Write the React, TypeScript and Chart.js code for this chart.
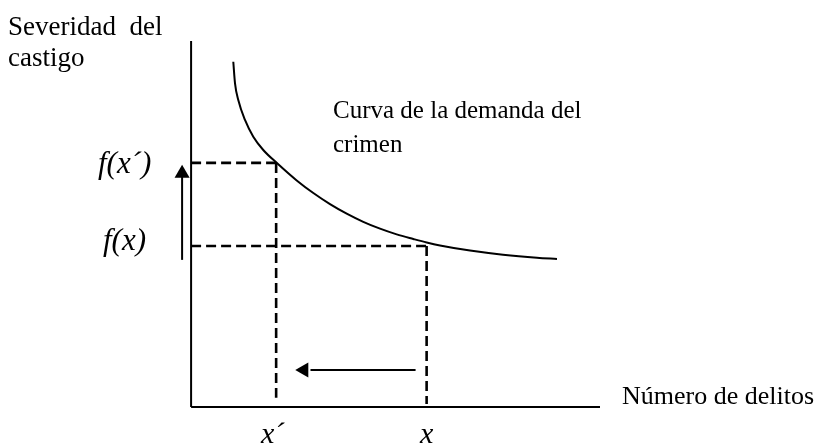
import React, { useEffect, useRef } from "react";
import { Chart, registerables } from "chart.js";

Chart.register(...registerables);

// Abstract diagram coordinates (x: number of crimes, y: severity of punishment)
const axisYLine = [{ x: 0, y: 0 }, { x: 0, y: 100 }];
const axisXLine = [{ x: 0, y: 0 }, { x: 100, y: 0 }];

const curveX = [10.32, 10.74, 11.54, 13.18, 15.21, 17.65, 21.25, 25.83, 29.89, 33.97, 38.05, 42.11, 46.2, 50.28, 54.34, 57.62, 60.87, 68.21, 76.28, 84.59, 89.48];
const curveY = [94.34, 88.44, 83.88, 78.42, 73.85, 70.22, 66.4, 61.91, 58.46, 55.44, 52.83, 50.6, 48.72, 47.17, 45.91, 44.95, 44.14, 42.75, 41.62, 40.79, 40.45];

const xPrime = 20.8; // x´
const xOrig = 57.6; // x
const fPrime = 66.7; // f(x´)
const fOrig = 44.0; // f(x)

const upArrowX = -2.2;
const upArrowY = [40.2, 63.4];
const upArrowHeadY = 63.8;

const leftArrowY = 10.1;
const leftArrowX = [54.9, 29.2];
const leftArrowHeadX = 27.6;

const FONT = '"Liberation Serif", "Times New Roman", serif';

type Lbl = { text: string; left: number; baseline: number; size: number; italic?: boolean };
const labels: Lbl[] = [
  { text: "Severidad  del", left: 8, baseline: 36, size: 27 },
  { text: "castigo", left: 8, baseline: 67, size: 27 },
  { text: "Curva de la demanda del", left: 333, baseline: 118, size: 25 },
  { text: "crimen", left: 333, baseline: 152, size: 25 },
  { text: "Número de delitos", left: 622, baseline: 405, size: 26 },
  { text: "f(x´)", left: 98, baseline: 173, size: 31, italic: true },
  { text: "f(x)", left: 103, baseline: 250, size: 31, italic: true },
  { text: "x´", left: 261, baseline: 443, size: 30, italic: true },
  { text: "x", left: 420, baseline: 443, size: 30, italic: true },
];

export default function App() {
  const ref = useRef<HTMLCanvasElement | null>(null);

  useEffect(() => {
    document.body.style.margin = "0";
    const canvas = ref.current;
    if (!canvas) return;
    const black = "#000000";
    const solid = (data: { x: number; y: number }[], w = 2) => ({
      data,
      showLine: true,
      borderColor: black,
      borderWidth: w,
      pointRadius: 0,
      fill: false,
      clip: false as any,
    });
    const dashed = (data: { x: number; y: number }[]) => ({
      ...solid(data, 2.6),
      borderDash: [10, 5],
      borderCapStyle: "butt",
    });
    const chart = new Chart(canvas, {
      type: "scatter",
      data: {
        datasets: [
          solid(axisYLine, 2),
          solid(axisXLine, 2.2),
          {
            ...solid(curveX.map((x, i) => ({ x, y: curveY[i] })), 2),
            cubicInterpolationMode: "monotone",
          } as any,
          dashed([{ x: 0, y: fPrime }, { x: xPrime, y: fPrime }]),
          dashed([{ x: xPrime, y: fPrime }, { x: xPrime, y: 2.5 }]),
          dashed([{ x: 0, y: fOrig }, { x: xOrig, y: fOrig }]),
          dashed([{ x: xOrig, y: fOrig }, { x: xOrig, y: 0.8 }]),
          solid([{ x: upArrowX, y: upArrowY[0] }, { x: upArrowX, y: upArrowY[1] }], 2),
          {
            data: [{ x: upArrowX, y: upArrowHeadY }],
            pointStyle: "triangle",
            pointRadius: 8.7,
            pointRotation: 0,
            pointBackgroundColor: black,
            pointBorderWidth: 0,
            showLine: false,
            clip: false as any,
          },
          solid([{ x: leftArrowX[0], y: leftArrowY }, { x: leftArrowX[1], y: leftArrowY }], 2),
          {
            data: [{ x: leftArrowHeadX, y: leftArrowY }],
            pointStyle: "triangle",
            pointRadius: 8.7,
            pointRotation: -90,
            pointBackgroundColor: black,
            pointBorderWidth: 0,
            showLine: false,
            clip: false as any,
          },
        ] as any,
      },
      options: {
        animation: false,
        responsive: false,
        devicePixelRatio: 1,
        layout: { padding: { left: 150.2, right: 219, top: 41, bottom: 37 } },
        scales: {
          x: { type: "linear", min: -10, max: 100, display: false },
          y: { type: "linear", min: 0, max: 100, display: false },
        },
        plugins: { legend: { display: false }, tooltip: { enabled: false } },
        events: [],
      },
    });
    return () => chart.destroy();
  }, []);

  return (
    <div style={{ position: "relative", width: 819, height: 444, overflow: "hidden", background: "#fff" }}>
      <canvas ref={ref} width={819} height={444} style={{ position: "absolute", left: 0, top: 0, width: 819, height: 444 }} />
      {labels.map((l, i) => (
        <div
          key={i}
          style={{
            position: "absolute",
            left: l.left,
            top: l.baseline - 0.8375 * l.size,
            fontFamily: FONT,
            fontSize: l.size,
            lineHeight: `${l.size}px`,
            fontStyle: l.italic ? "italic" : "normal",
            whiteSpace: "pre",
            color: "#000",
          }}
        >
          {l.text}
        </div>
      ))}
    </div>
  );
}
